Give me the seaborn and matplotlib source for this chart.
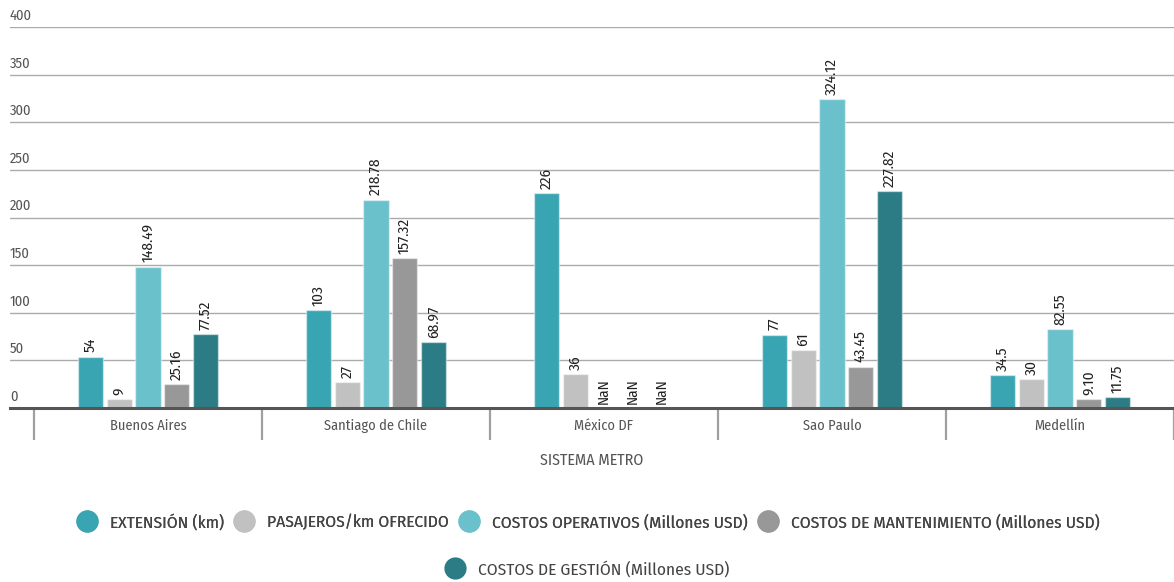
import numpy as np
import pandas as pd
import matplotlib
matplotlib.use("Agg")
import matplotlib.pyplot as plt
import matplotlib.transforms as mtransforms
from matplotlib.lines import Line2D
import seaborn as sns

# Metro systems compared
sistemas = ["Buenos Aires", "Santiago de Chile", "México DF", "Sao Paulo", "Medellín"]

series = [
    "EXTENSIÓN (km)",
    "PASAJEROS/km OFRECIDO",
    "COSTOS OPERATIVOS (Millones USD)",
    "COSTOS DE MANTENIMIENTO (Millones USD)",
    "COSTOS DE GESTIÓN (Millones USD)",
]

# Values as printed on the bars ("NaN" = no data)
extension = ["54", "103", "226", "77", "34.5"]
pasajeros = ["9", "27", "36", "61", "30"]
operativos = ["148.49", "218.78", "NaN", "324.12", "82.55"]
mantenimiento = ["25.16", "157.32", "NaN", "43.45", "9.10"]
gestion = ["77.52", "68.97", "NaN", "227.82", "11.75"]

colores = ["#3aa5b2", "#c1c1c1", "#6bc1cb", "#989898", "#2b7c84"]

etiquetas = [extension, pasajeros, operativos, mantenimiento, gestion]

rows = []
for serie, vals in zip(series, etiquetas):
    for sistema, txt in zip(sistemas, vals):
        rows.append({"sistema": sistema, "serie": serie, "valor": float(txt), "texto": txt})
df = pd.DataFrame(rows)

sns.set_theme(style="white")
plt.rcParams["font.family"] = ["Fira Sans Condensed", "DejaVu Sans"]

W, H = 1174, 582
fig = plt.figure(figsize=(W / 100, H / 100), dpi=100)
ax = fig.add_axes([10 / W, 174 / H, 1164 / W, 381 / H])

GROUP_W = 0.63
GAP = 0.12
sns.barplot(
    data=df.dropna(subset=["valor"]), x="sistema", y="valor", hue="serie",
    order=sistemas, hue_order=series, palette=colores, saturation=1,
    width=GROUP_W, gap=GAP, dodge=True, legend=False, ax=ax,
    edgecolor=(1, 1, 1, 0.45), linewidth=1.0, err_kws={"linewidth": 0},
)

ax.set_xlim(-0.605, 4.5)
ax.set_ylim(0, 400)

# Horizontal grid and thick zero line
ax.set_yticks(np.arange(0, 401, 50))
ax.yaxis.grid(True, color="#ababab", linewidth=1.0)
ax.set_axisbelow(True)
for side in ["top", "right", "left"]:
    ax.spines[side].set_visible(False)
ax.spines["bottom"].set_color("#555555")
ax.spines["bottom"].set_linewidth(2.2)
ax.tick_params(axis="y", length=0, labelleft=False)

# Y values written above each grid line
ytrans = mtransforms.blended_transform_factory(ax.transAxes, ax.transData)
for v in np.arange(0, 401, 50):
    ax.annotate(str(v), xy=(0, v), xycoords=ytrans, xytext=(0, 3),
                textcoords="offset points", ha="left", va="bottom",
                fontsize=10.5, color="#555555")

# Category separators below the axis
xtrans = mtransforms.blended_transform_factory(ax.transData, ax.transAxes)
for b in np.arange(-0.5, len(sistemas), 1.0):
    ax.plot([b, b], [0, -32 / 381], transform=xtrans, color="#a0a0a0",
            linewidth=1.6, clip_on=False, solid_capstyle="butt")

ax.tick_params(axis="x", length=0, pad=8, labelsize=10.3, labelcolor="#555555")
ax.set_xlabel("SISTEMA METRO", fontsize=11.5, color="#555555", labelpad=14)
ax.set_ylabel("")

# Value labels above each bar
n = len(series)
offsets = np.linspace(-GROUP_W / 2 + GROUP_W / (2 * n), GROUP_W / 2 - GROUP_W / (2 * n), n)
for j, vals in enumerate(etiquetas):
    for i, txt in enumerate(vals):
        v = float(txt)
        y = 0 if np.isnan(v) else v
        ax.annotate(txt, xy=(i + offsets[j], y), xytext=(0, 3),
                    textcoords="offset points", ha="center", va="bottom",
                    rotation=90, fontsize=11, color="#222222")

# Legend: two centred rows
handles = [Line2D([], [], marker="o", linestyle="none", markersize=15,
                  markerfacecolor=c, markeredgecolor=c) for c in colores]
leg_kw = dict(frameon=False, fontsize=12.5, handlelength=1.25, handletextpad=0.7,
              columnspacing=0.55, labelcolor="#444444", loc="center")
leg1 = fig.legend(handles[:4], series[:4], ncol=4,
                  bbox_to_anchor=(588 / W, 1 - 522 / H), **leg_kw)
fig.add_artist(leg1)
fig.legend(handles[4:], series[4:], ncol=1,
           bbox_to_anchor=(587 / W, 1 - 569 / H), **leg_kw)

fig.savefig("out.png", dpi=100, facecolor="white")
